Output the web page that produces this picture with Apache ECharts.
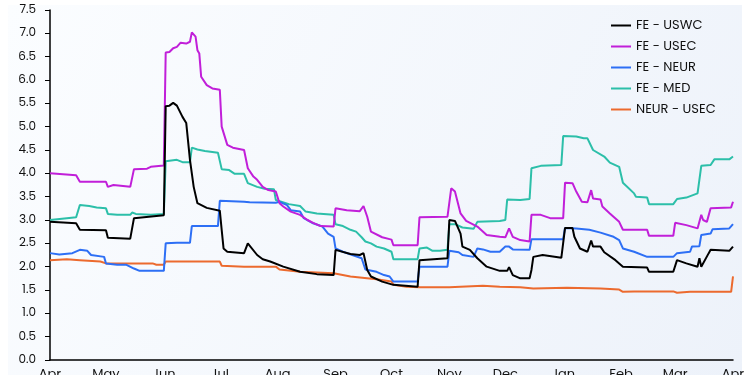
<!DOCTYPE html>
<html>
<head>
<meta charset="utf-8">
<script src="https://cdn.jsdelivr.net/npm/echarts@6/dist/echarts.min.js"></script>
<style>
html,body{margin:0;padding:0;background:#fff;}
#chart{width:750px;height:375px;}
</style>
</head>
<body>
<div id="chart"></div>
<script>
// Period start (day 0 = 1 Apr 2023), values are rates
const startYear = 2023, startMonth = 3, startDay = 1;
const monthLabels = ['Jan','Feb','Mar','Apr','May','Jun','Jul','Aug','Sep','Oct','Nov','Dec'];
const seriesNames = ['FE - USWC','FE - USEC','FE - NEUR','FE - MED','NEUR - USEC'];

// [day offset, value]
const feUswc = [[0,2.96],[14,2.93],[16,2.79],[30,2.78],[31,2.62],[43,2.6],[44,2.6],[45,3.04],[53,3.07],[61,3.1],[62,5.44],[64,5.45],[66,5.51],[68,5.45],[71,5.21],[73,5.08],[75,4.29],[77,3.71],[79,3.36],[84,3.26],[91,3.2],[92,2.79],[93,2.39],[95,2.32],[104,2.29],[106,2.5],[107,2.51],[111,2.25],[114,2.16],[118,2.11],[125,2.0],[134,1.89],[143,1.84],[152,1.82],[153,2.36],[161,2.27],[166,2.25],[168,2.29],[170,1.93],[172,1.79],[178,1.68],[184,1.61],[197,1.57],[198,2.14],[213,2.18],[214,3.0],[217,2.98],[220,2.71],[221,2.43],[225,2.36],[229,2.18],[234,2.0],[241,1.91],[245,1.91],[246,1.99],[248,1.82],[252,1.75],[257,1.75],[258,1.93],[259,2.21],[264,2.25],[274,2.19],[276,2.83],[280,2.83],[281,2.64],[284,2.39],[288,2.32],[290,2.56],[291,2.43],[295,2.43],[296,2.46],[297,2.31],[303,2.14],[307,2.0],[320,1.98],[321,1.89],[334,1.89],[336,2.14],[341,2.07],[347,2.0],[348,2.18],[349,2.0],[353,2.29],[354,2.36],[364,2.34],[366,2.43]];
const feUsec = [[0,4.0],[14,3.96],[16,3.82],[30,3.82],[31,3.71],[34,3.75],[43,3.71],[44,3.71],[45,4.09],[52,4.1],[54,4.14],[61,4.17],[62,6.59],[64,6.6],[66,6.68],[68,6.71],[70,6.8],[73,6.78],[75,6.82],[76,7.02],[78,6.93],[79,6.64],[80,6.57],[81,6.07],[84,5.89],[87,5.82],[91,5.79],[92,5.0],[95,4.61],[98,4.55],[104,4.5],[106,4.11],[109,3.93],[111,3.86],[114,3.71],[117,3.64],[121,3.61],[123,3.36],[125,3.29],[129,3.18],[134,3.11],[138,3.0],[141,2.94],[145,2.87],[152,2.86],[153,3.25],[159,3.21],[166,3.19],[168,3.3],[170,3.07],[172,2.75],[178,2.63],[183,2.58],[184,2.46],[197,2.46],[198,3.06],[213,3.07],[215,3.68],[217,3.61],[220,3.14],[223,2.98],[229,2.86],[234,2.68],[241,2.64],[244,2.63],[246,2.82],[247,2.86],[248,2.64],[252,2.57],[257,2.54],[258,3.11],[263,3.11],[268,3.04],[275,3.04],[276,3.8],[280,3.79],[282,3.61],[285,3.39],[288,3.38],[290,3.64],[291,3.46],[295,3.44],[296,3.29],[300,3.14],[305,2.96],[307,2.79],[320,2.79],[321,2.66],[334,2.66],[335,2.94],[341,2.89],[347,2.82],[349,3.11],[350,3.0],[352,2.96],[354,3.25],[365,3.27],[366,3.39]];
const feNeur = [[0,2.29],[5,2.26],[12,2.29],[16,2.36],[20,2.34],[22,2.25],[29,2.21],[30,2.07],[36,2.04],[41,2.04],[45,1.96],[48,1.91],[61,1.91],[62,2.5],[68,2.51],[75,2.51],[76,2.87],[90,2.87],[91,3.41],[104,3.39],[107,3.38],[121,3.37],[123,3.39],[127,3.32],[129,3.21],[134,3.18],[136,3.04],[141,2.93],[146,2.86],[149,2.71],[152,2.64],[153,2.39],[157,2.32],[162,2.25],[167,2.18],[169,1.94],[175,1.89],[179,1.82],[182,1.79],[184,1.68],[197,1.68],[198,2.0],[213,2.0],[214,2.34],[219,2.31],[221,2.25],[227,2.21],[229,2.39],[232,2.37],[236,2.32],[241,2.32],[244,2.43],[246,2.43],[248,2.37],[257,2.36],[258,2.59],[275,2.59],[276,2.83],[282,2.82],[289,2.79],[295,2.73],[302,2.64],[305,2.57],[307,2.39],[313,2.32],[320,2.21],[334,2.21],[336,2.29],[343,2.32],[344,2.43],[348,2.44],[349,2.68],[354,2.71],[355,2.8],[364,2.82],[366,2.91]];
const feMed = [[0,3.0],[9,3.04],[14,3.06],[16,3.32],[21,3.3],[25,3.27],[30,3.25],[31,3.13],[36,3.11],[43,3.11],[44,3.16],[46,3.13],[54,3.11],[61,3.13],[62,4.26],[68,4.29],[71,4.24],[75,4.24],[76,4.55],[79,4.51],[83,4.48],[90,4.44],[92,4.09],[96,4.07],[99,3.99],[104,3.99],[106,3.79],[107,3.79],[111,3.71],[115,3.67],[120,3.66],[121,3.43],[128,3.34],[134,3.3],[137,3.18],[143,3.14],[152,3.11],[153,2.91],[157,2.87],[161,2.79],[164,2.75],[167,2.63],[169,2.54],[172,2.5],[175,2.43],[179,2.39],[183,2.32],[184,2.16],[197,2.16],[198,2.39],[202,2.41],[205,2.34],[209,2.34],[213,2.36],[214,2.91],[217,2.91],[221,2.84],[227,2.81],[229,2.96],[241,2.98],[244,3.0],[245,3.44],[252,3.43],[257,3.45],[258,4.11],[263,4.16],[274,4.18],[275,4.8],[282,4.79],[286,4.75],[288,4.75],[291,4.5],[297,4.36],[300,4.23],[305,4.14],[307,3.8],[313,3.57],[314,3.5],[320,3.48],[321,3.34],[334,3.34],[336,3.45],[341,3.48],[347,3.57],[349,4.16],[354,4.18],[356,4.3],[364,4.3],[366,4.36]];
const neurUsec = [[0,2.14],[9,2.16],[16,2.14],[27,2.11],[30,2.07],[55,2.07],[57,2.04],[61,2.04],[62,2.11],[91,2.11],[92,2.02],[104,2.0],[121,2.0],[123,1.94],[134,1.89],[152,1.86],[161,1.79],[175,1.73],[183,1.68],[184,1.61],[191,1.57],[198,1.56],[214,1.56],[232,1.59],[241,1.57],[252,1.56],[259,1.53],[277,1.55],[295,1.53],[305,1.51],[307,1.46],[313,1.47],[334,1.47],[336,1.44],[343,1.46],[365,1.46],[366,1.79]];

const seriesData = [feUswc, feUsec, feNeur, feMed, neurUsec];
const seriesColors = ['#000000','#c11fd9','#2d6ff5','#2cbfa9','#ec6a2e'];

const DAY = 86400000;
const t0 = Date.UTC(startYear, startMonth, startDay);
const toTime = arr => arr.map(p => [t0 + p[0] * DAY, p[1]]);

const chart = echarts.init(document.getElementById('chart'));
const FONT = 'Poppins, "Open Sans", "DejaVu Sans", sans-serif';

chart.setOption({
  useUTC: true,
  animation: false,
  backgroundColor: '#ffffff',
  graphic: [{
    type: 'rect', z: -100, silent: true,
    shape: { x: 8, y: 5, width: 734, height: 372 },
    style: { fill: new echarts.graphic.LinearGradient(0, 0, 1, 1, [
      { offset: 0, color: '#fbfdff' }, { offset: 1, color: '#edf2fa' }
    ]) }
  }],
  grid: { left: 50, right: 17, top: 10, bottom: 15, containLabel: false, outerBoundsMode: 'none' },
  legend: {
    orient: 'vertical',
    left: 606, top: 14,
    itemWidth: 20, itemHeight: 2, itemGap: 8,
    icon: 'rect',
    textStyle: { fontFamily: FONT, fontSize: 13, color: '#111' },
    data: seriesNames
  },
  xAxis: {
    type: 'time',
    min: t0, max: t0 + 366 * DAY,
    splitNumber: 12,
    minInterval: 28 * DAY, maxInterval: 31 * DAY,
    axisLine: { show: true, lineStyle: { color: '#000', width: 1.5 } },
    axisTick: { show: false },
    splitLine: { show: false },
    axisLabel: {
      margin: 8, fontFamily: FONT, fontSize: 13, color: '#111',
      showMinLabel: true, showMaxLabel: true, hideOverlap: false,
      formatter: v => monthLabels[new Date(v).getUTCMonth()]
    }
  },
  yAxis: {
    type: 'value', min: 0, max: 7.5, interval: 0.5,
    axisLine: { show: true, lineStyle: { color: '#000', width: 1.5 } },
    axisTick: { show: true, length: 5, lineStyle: { color: '#000' } },
    splitLine: { show: false },
    axisLabel: { margin: 14, fontFamily: FONT, fontSize: 12, color: '#111',
      formatter: v => v.toFixed(1) }
  },
  series: seriesNames.map((name, i) => ({
    name, type: 'line', data: toTime(seriesData[i]),
    symbol: 'none', showSymbol: false,
    lineStyle: { color: seriesColors[i], width: 2 },
    itemStyle: { color: seriesColors[i] },
    z: 10 - i
  }))
});
</script>
</body>
</html>
